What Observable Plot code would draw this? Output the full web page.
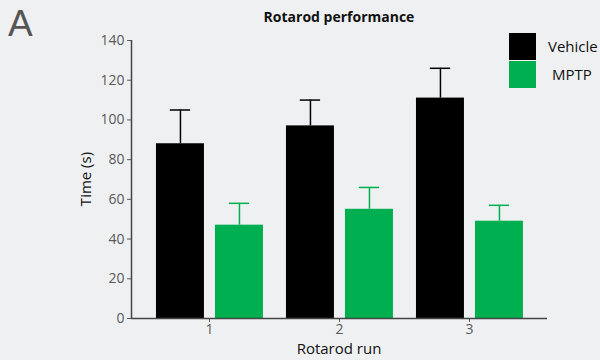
<!DOCTYPE html>
<html>
<head>
<meta charset="utf-8">
<script src="https://cdn.jsdelivr.net/npm/d3@7"></script>
<script src="https://cdn.jsdelivr.net/npm/@observablehq/plot@0.6"></script>
<style>
  html, body { margin: 0; padding: 0; background: #eff0f2; }
  #wrap { position: relative; width: 600px; height: 360px; background: #eff0f2; font-family: "Open Sans", sans-serif; overflow: hidden; }
  .abs { position: absolute; white-space: nowrap; }
  #panel { left: 8px; top: 3px; font-family: "Liberation Sans", Arial, sans-serif; font-size: 37px; line-height: normal; color: #555; }
  #title { left: 339px; top: 7px; transform: translateX(-50%); font-size: 14px; font-weight: bold; color: #111; }
  #ylab { left: 85px; top: 179px; transform: translate(-50%, -50%) rotate(-90deg); font-size: 15px; color: #111; }
  #xlab { left: 339px; top: 338px; transform: translateX(-50%); font-size: 15px; color: #111; }
  .lg-box { position: absolute; width: 27px; height: 27px; }
  .lg-text { position: absolute; font-size: 15px; color: #111; }
</style>
</head>
<body>
<div id="wrap">
  <div id="chart"></div>
  <div class="abs" id="panel">A</div>
  <div class="abs" id="title">Rotarod performance</div>
  <div class="abs" id="ylab">Time (s)</div>
  <div class="abs" id="xlab">Rotarod run</div>
  <div id="legend"></div>
</div>
<script>
const runs = [1, 2, 3];
const groups = ["Vehicle", "MPTP"];
const vehicleMean = [88, 97, 111];
const vehicleErr = [17, 13, 15];
const mptpMean = [47, 55, 49];
const mptpErr = [11, 11, 8];
const colors = ["#000000", "#00b050"];
const yTicks = [0, 20, 40, 60, 80, 100, 120, 140];

const data = [];
runs.forEach((r, i) => {
  data.push({run: r, group: "Vehicle", mean: vehicleMean[i], err: vehicleErr[i]});
  data.push({run: r, group: "MPTP", mean: mptpMean[i], err: mptpErr[i]});
});

// dodge within each run
const dodge = d3.scaleBand(groups, [-0.408, 0.415]).paddingInner(0.187).paddingOuter(0);
const bw = dodge.bandwidth();
const x1 = d => d.run + dodge(d.group);
const x2 = d => d.run + dodge(d.group) + bw;
const xc = d => d.run + dodge(d.group) + bw / 2;
const capHalf = 0.078;

const plot = Plot.plot({
  width: 600,
  height: 360,
  marginLeft: 131,
  marginRight: 53,
  marginTop: 40,
  marginBottom: 42,
  style: {background: "transparent", fontFamily: "Open Sans, sans-serif", fontSize: "14px", color: "#595959"},
  x: {type: "linear", domain: [0.4, 3.6], ticks: runs, tickFormat: d3.format("d"), label: null, tickSize: 4, tickPadding: 2},
  y: {domain: [0, 140], ticks: yTicks, label: null, tickSize: 4, tickPadding: 3},
  color: {domain: groups, range: colors},
  marks: [
    Plot.rectY(data, {x1, x2, y: "mean", fill: "group"}),
    Plot.ruleX(data, {x: xc, y1: "mean", y2: d => d.mean + d.err, stroke: "group", strokeWidth: 1.5}),
    Plot.ruleY(data, {y: d => d.mean + d.err, x1: d => xc(d) - capHalf, x2: d => xc(d) + capHalf, stroke: "group", strokeWidth: 1.5}),
    Plot.ruleY([0], {stroke: "#444", strokeWidth: 1.5}),
    Plot.ruleX([0.4], {stroke: "#444", strokeWidth: 1.5})
  ]
});
document.getElementById("chart").appendChild(plot);

const color = plot.scale("color");
const legend = document.getElementById("legend");
const lgTop = [33, 61];
const lgTextLeft = [548, 552];
groups.forEach((g, i) => {
  const box = document.createElement("div");
  box.className = "lg-box";
  box.style.left = "509px";
  box.style.top = lgTop[i] + "px";
  box.style.background = color.apply(g);
  legend.appendChild(box);
  const t = document.createElement("div");
  t.className = "lg-text";
  t.style.left = lgTextLeft[i] + "px";
  t.style.top = (lgTop[i] + 3) + "px";
  t.textContent = g;
  legend.appendChild(t);
});
</script>
</body>
</html>
